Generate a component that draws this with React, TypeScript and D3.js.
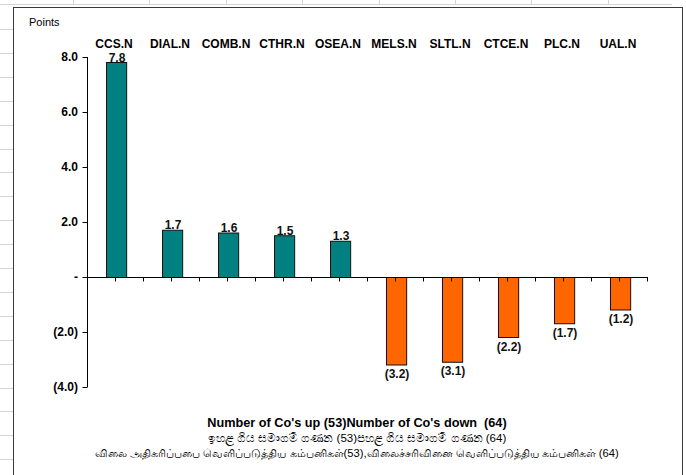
import { useEffect, useRef } from 'react';
import * as d3 from 'd3';

const categories = ['CCS.N', 'DIAL.N', 'COMB.N', 'CTHR.N', 'OSEA.N', 'MELS.N', 'SLTL.N', 'CTCE.N', 'PLC.N', 'UAL.N'];
const values = [7.8, 1.7, 1.6, 1.5, 1.3, -3.2, -3.1, -2.2, -1.7, -1.2];
const yTicks = [8, 6, 4, 2, 0, -2, -4];
const footerLines = [
  "Number of Co's up (53)Number of Co's down  (64)",
  'ඉහළ ගිය සමාගම් ගණන (53)පහළ ගිය සමාගම් ගණන (64)',
  'விலை அதிகரிப்பபை வெளிப்படுத்திய கம்பனிகள்(53),விலைச்சரிவினை வெளிப்படுத்திய கம்பனிகள் (64)',
];

const FONT = "'Liberation Sans', Arial, sans-serif";

const fmt = (v: number): string => {
  if (v === 0) return '-';
  const s = Math.abs(v).toFixed(1);
  return v < 0 ? `(${s})` : s;
};

const App = (): JSX.Element => {
  const svgRef = useRef<SVGSVGElement>(null);

  useEffect(() => {
    const width = 686;
    const height = 475;
    const svg = d3.select(svgRef.current)
      .attr('width', width)
      .attr('height', height)
      .style('font-family', FONT);

    // faint spreadsheet cell borders behind the chart
    const bg = svg.append('g').attr('stroke', '#d4d4d4').attr('stroke-width', 1);
    bg.append('line').attr('x1', 0).attr('x2', 672).attr('y1', 4.5).attr('y2', 4.5);
    d3.range(73, 680, 76.4).forEach(x => {
      bg.append('line').attr('x1', Math.round(x) + 0.5).attr('x2', Math.round(x) + 0.5).attr('y1', 0).attr('y2', 5);
    });
    d3.range(29, 475, 23.9).forEach(y => {
      bg.append('line').attr('x1', 0).attr('x2', 13).attr('y1', Math.round(y) + 0.5).attr('y2', Math.round(y) + 0.5);
    });

    // chart frame
    svg.append('rect')
      .attr('x', 13.5).attr('y', 7.5)
      .attr('width', 669).attr('height', 480)
      .attr('fill', 'white')
      .attr('stroke', '#3a3a3a')
      .attr('stroke-width', 1);

    const x = d3.scaleBand<string>().domain(categories).range([88, 648]).padding(0);
    const y = d3.scaleLinear().domain([-4, 8]).range([387, 57]);
    const barW = x.bandwidth() * 0.36;
    const y0 = Math.round(y(0)) + 0.5;

    // bars
    svg.append('g')
      .selectAll('rect')
      .data(values)
      .enter()
      .append('rect')
      .attr('x', (_d, i) => Math.round(x(categories[i])! + x.bandwidth() / 2 - barW / 2) + 0.5)
      .attr('y', d => (d >= 0 ? y(d) : y0))
      .attr('width', barW)
      .attr('height', d => Math.abs(y(d) - y0))
      .attr('fill', d => (d >= 0 ? '#008080' : '#FF6600'))
      .attr('stroke', '#111')
      .attr('stroke-width', 1);

    // y axis
    const yAxisX = 87.5;
    const ya = svg.append('g').attr('stroke', '#000').attr('stroke-width', 1);
    ya.append('line').attr('x1', yAxisX).attr('x2', yAxisX).attr('y1', y(8)).attr('y2', y(-4));
    yTicks.forEach(t => {
      const ty = Math.round(y(t)) + 0.5;
      ya.append('line').attr('x1', yAxisX - 5).attr('x2', yAxisX).attr('y1', ty).attr('y2', ty);
    });
    svg.append('g')
      .selectAll('text')
      .data(yTicks)
      .enter()
      .append('text')
      .attr('x', 78)
      .attr('y', d => y(d))
      .attr('dy', '0.35em')
      .attr('text-anchor', 'end')
      .attr('font-size', 12)
      .attr('font-weight', 'bold')
      .attr('fill', '#000')
      .text(d => fmt(d));

    // x axis at zero
    const xa = svg.append('g').attr('stroke', '#000').attr('stroke-width', 1);
    xa.append('line').attr('x1', 88).attr('x2', 648).attr('y1', y0).attr('y2', y0);
    const tickXs: number[] = [];
    categories.forEach(c => {
      tickXs.push(x(c)!);
      tickXs.push(x(c)! + x.bandwidth() / 2);
    });
    tickXs.push(648);
    tickXs.forEach(tx => {
      const px = Math.round(tx) - 0.5;
      xa.append('line').attr('x1', px).attr('x2', px).attr('y1', y0).attr('y2', y0 + 4);
    });

    // category labels on top
    svg.append('g')
      .selectAll('text')
      .data(categories)
      .enter()
      .append('text')
      .attr('x', d => x(d)! + x.bandwidth() / 2 - 2)
      .attr('y', 48)
      .attr('text-anchor', 'middle')
      .attr('font-size', 12)
      .attr('font-weight', 'bold')
      .attr('fill', '#000')
      .text(d => d);

    // value labels
    svg.append('g')
      .selectAll('text')
      .data(values)
      .enter()
      .append('text')
      .attr('x', (_d, i) => x(categories[i])! + x.bandwidth() / 2 + 1)
      .attr('y', d => (d >= 0 ? y(d) - 1 : y(d) + 13))
      .attr('text-anchor', 'middle')
      .attr('font-size', 12)
      .attr('font-weight', 'bold')
      .attr('fill', '#111')
      .text(d => fmt(d));

    // axis title
    svg.append('text')
      .attr('x', 29)
      .attr('y', 26)
      .attr('font-size', 11)
      .attr('fill', '#000')
      .text('Points');

    // footer
    const footerSizes = [12.7, 11.5, 11.2];
    const footerYs = [427, 442, 457];
    footerLines.forEach((line, i) => {
      svg.append('text')
        .attr('x', 357)
        .attr('y', footerYs[i])
        .attr('text-anchor', 'middle')
        .attr('font-size', footerSizes[i])
        .attr('font-weight', i === 0 ? 'bold' : 'normal')
        .attr('fill', '#000')
        .style('white-space', 'pre')
        .text(line);
    });

    return () => {
      d3.select(svgRef.current).selectAll('*').remove();
    };
  }, []);

  return (
    <div style={{ position: 'absolute', left: 0, top: 0 }}>
      <svg ref={svgRef}></svg>
    </div>
  );
};

export default App;
